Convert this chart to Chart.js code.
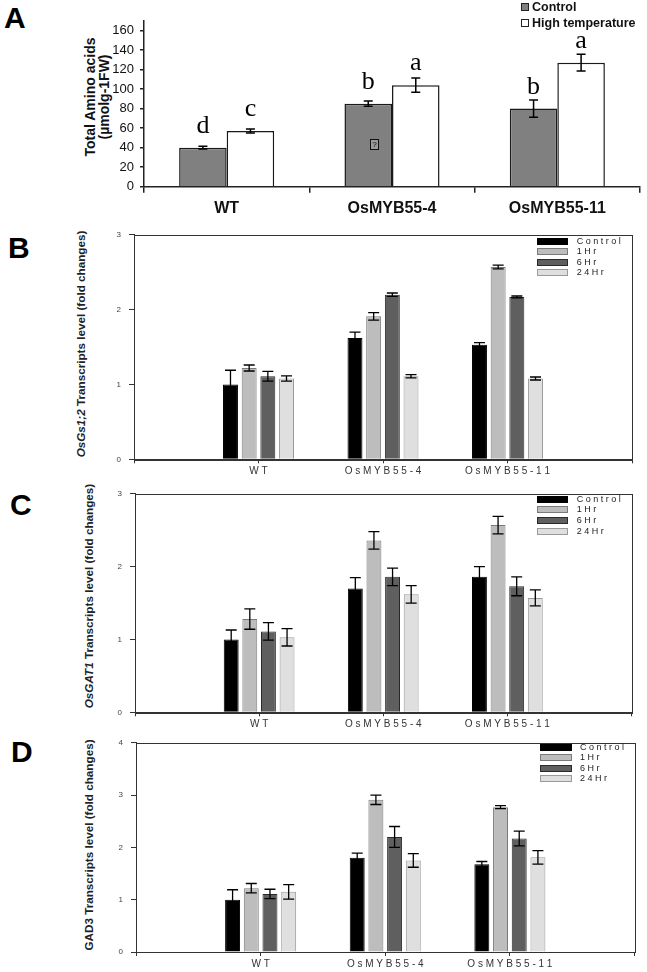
<!DOCTYPE html>
<html>
<head>
<meta charset="utf-8">
<script src="https://cdn.jsdelivr.net/npm/chart.js@4.4.1/dist/chart.umd.min.js"></script>
<style>
  html, body { margin:0; padding:0; background:#fff; }
  body { width:647px; height:972px; position:relative; overflow:hidden; font-family:"Liberation Sans", Arial, sans-serif; }
  .cv { position:absolute; }
  .abs { position:absolute; white-space:nowrap; }
  .plabel { position:absolute; font-weight:bold; font-size:30px; line-height:30px; color:#000; }
  .ytitle { position:absolute; white-space:nowrap; transform:translate(-50%,-50%) rotate(-90deg); font-weight:bold; color:#222; }
  .leg { position:absolute; font-size:9px; line-height:9px; color:#222; white-space:nowrap; }
  .legbox { position:absolute; box-sizing:border-box; }
</style>
</head>
<body>
<div class="plabel" style="left:4px;top:3px;">A</div>
<div class="plabel" style="left:8px;top:233px;">B</div>
<div class="plabel" style="left:10px;top:490px;">C</div>
<div class="plabel" style="left:11px;top:737px;">D</div>

<div class="ytitle" style="left:97px;top:97px;font-size:14px;line-height:14px;text-align:center;color:#111;">Total Amino acids<br>(µmolg-1FW)</div>
<div class="ytitle" style="left:80px;top:344px;font-size:11.7px;"><i>OsGs1;2</i> Transcripts level (fold changes)</div>
<div class="ytitle" style="left:88px;top:596px;font-size:11.7px;"><i>OsGAT1</i> Transcripts level (fold changes)</div>
<div class="ytitle" style="left:88px;top:845px;font-size:11.7px;">GAD3 Transcripts level (fold changes)</div>

<canvas id="cA" class="cv" style="left:100px;top:0px;" width="547" height="222"></canvas>
<canvas id="cB" class="cv" style="left:100px;top:222px;" width="547" height="256"></canvas>
<canvas id="cC" class="cv" style="left:100px;top:481px;" width="547" height="248"></canvas>
<canvas id="cD" class="cv" style="left:100px;top:730px;" width="547" height="242"></canvas>

<div id="legends"></div>

<script>
// ---------------- DATA ----------------
// Panel A: total amino acids
const groupsA = ['WT', 'OsMYB55-4', 'OsMYB55-11'];
const seriesA = ['Control', 'High temperature'];
const controlA = [40, 85, 80];
const controlAErr = [1.5, 2.7, 8.9];
const highTempA = [57, 104, 127];
const highTempAErr = [2, 7.4, 8.6];
const lettersControlA = ['d', 'b', 'b'];
const lettersHighA = ['c', 'a', 'a'];
const yTicksA = [0, 20, 40, 60, 80, 100, 120, 140, 160];

// Panels B-D: transcript levels
const lines = ['W T', 'O s M Y B 5 5 - 4', 'O s M Y B 5 5 - 1 1'];
const timeSeries = ['C o n t r o l', '1 H r', '6 H r', '2 4 H r'];

const gs12Control = [1.00, 1.62, 1.53];
const gs12ControlErr = [0.19, 0.08, 0.03];
const gs12H1 = [1.22, 1.91, 2.57];
const gs12H1Err = [0.04, 0.05, 0.026];
const gs12H6 = [1.11, 2.20, 2.17];
const gs12H6Err = [0.065, 0.022, 0.012];
const gs12H24 = [1.08, 1.11, 1.08];
const gs12H24Err = [0.035, 0.022, 0.02];

const gatControl = [1.00, 1.70, 1.86];
const gatControlErr = [0.13, 0.15, 0.14];
const gatH1 = [1.28, 2.36, 2.57];
const gatH1Err = [0.14, 0.12, 0.12];
const gatH6 = [1.11, 1.86, 1.73];
const gatH6Err = [0.12, 0.12, 0.13];
const gatH24 = [1.03, 1.62, 1.57];
const gatH24Err = [0.12, 0.12, 0.11];

const gadControl = [1.00, 1.80, 1.68];
const gadControlErr = [0.19, 0.09, 0.05];
const gadH1 = [1.22, 2.91, 2.77];
const gadH1Err = [0.09, 0.09, 0.03];
const gadH6 = [1.11, 2.20, 2.17];
const gadH6Err = [0.09, 0.20, 0.14];
const gadH24 = [1.15, 1.75, 1.81];
const gadH24Err = [0.14, 0.13, 0.13];

// ---------------- STYLE ----------------
const SANS = '"Liberation Sans", Arial, sans-serif';
const SERIF = '"Liberation Serif", "Times New Roman", serif';
const timeFill = ['#000000', '#bdbdbd', '#5f5f5f', '#dfdfdf'];
const timeBorder = ['#000000', '#7a7a7a', '#2a2a2a', '#9a9a9a'];

// ---------------- PLUGINS ----------------
const errorBars = {
  id: 'errorBars',
  afterDatasetsDraw(chart, args, opts) {
    const ctx = chart.ctx, y = chart.scales.y;
    chart.data.datasets.forEach((ds, i) => {
      if (!ds.errors) return;
      const meta = chart.getDatasetMeta(i);
      meta.data.forEach((bar, j) => {
        const v = ds.data[j], e = ds.errors[j];
        if (v == null || e == null) return;
        const x = bar.x;
        const yt = y.getPixelForValue(v + e), yb = y.getPixelForValue(v - e);
        const c = opts.cap / 2;
        ctx.save();
        ctx.strokeStyle = '#000';
        ctx.lineWidth = opts.width;
        ctx.beginPath();
        ctx.moveTo(x, yt); ctx.lineTo(x, yb);
        ctx.moveTo(x - c, yt); ctx.lineTo(x + c, yt);
        ctx.moveTo(x - c, yb); ctx.lineTo(x + c, yb);
        ctx.stroke();
        ctx.restore();
      });
    });
  }
};

const letterMarks = {
  id: 'letterMarks',
  afterDatasetsDraw(chart) {
    const ctx = chart.ctx;
    chart.data.datasets.forEach((ds, i) => {
      if (!ds.letters) return;
      const meta = chart.getDatasetMeta(i);
      meta.data.forEach((bar, j) => {
        ctx.save();
        ctx.font = '26px ' + SERIF;
        ctx.fillStyle = '#000';
        ctx.textAlign = 'center';
        ctx.textBaseline = 'alphabetic';
        ctx.fillText(ds.letters[j], bar.x, bar.y - 15);
        ctx.restore();
      });
    });
  }
};

const frame = {
  id: 'frame',
  afterDraw(chart) {
    const a = chart.chartArea, ctx = chart.ctx;
    ctx.save();
    ctx.strokeStyle = '#333';
    ctx.lineWidth = 1;
    ctx.strokeRect(Math.round(a.left) + 0.5, Math.round(a.top) + 0.5,
                   Math.round(a.right - a.left), Math.round(a.bottom - a.top));
    ctx.restore();
  }
};

// ---------------- PANEL A ----------------
new Chart(document.getElementById('cA'), {
  type: 'bar',
  data: {
    labels: groupsA,
    datasets: [
      { label: seriesA[0], data: controlA, errors: controlAErr, letters: lettersControlA,
        backgroundColor: '#808080', borderColor: '#1a1a1a', borderWidth: 1.5 },
      { label: seriesA[1], data: highTempA, errors: highTempAErr, letters: lettersHighA,
        backgroundColor: '#ffffff', borderColor: '#1a1a1a', borderWidth: 1.5 }
    ]
  },
  options: {
    responsive: false, animation: false, devicePixelRatio: 1,
    layout: { padding: { left: 0, right: 7, top: 20.7, bottom: 0 } },
    datasets: { bar: { categoryPercentage: 0.575, barPercentage: 1.0 } },
    plugins: { legend: { display: false }, tooltip: { enabled: false },
               errorBars: { width: 1.5, cap: 9 } },
    scales: {
      x: {
        offset: true,
        grid: { offset: true, drawOnChartArea: false, drawTicks: true, tickLength: 6, color: '#222', lineWidth: 1.5 },
        border: { display: true, color: '#222', width: 1.5 },
        ticks: { font: { family: SANS, size: 16, weight: 'bold' }, color: '#111', padding: 6, maxRotation: 0, autoSkip: false },
        afterFit(s) { s.height = 35.3; }
      },
      y: {
        min: 0, max: 170,
        afterBuildTicks(s) { s.ticks = yTicksA.map(v => ({ value: v })); },
        grid: { drawOnChartArea: false, drawTicks: true, tickLength: 4, color: '#222', lineWidth: 1.5 },
        border: { display: true, color: '#222', width: 1.5 },
        ticks: { font: { family: SANS, size: 13 }, color: '#111', padding: 6 },
        afterFit(s) { s.width = 44; }
      }
    }
  },
  plugins: [errorBars, letterMarks]
});

// ---------------- PANELS B-D ----------------
function pad(a) { return [null].concat(a, [null]); }

function transcriptChart(id, vals, errs, yMax, pads) {
  const datasets = timeSeries.map((name, k) => ({
    label: name, data: pad(vals[k]), errors: pad(errs[k]),
    backgroundColor: timeFill[k], borderColor: timeBorder[k], borderWidth: 1
  }));
  return new Chart(document.getElementById(id), {
    type: 'bar',
    data: { labels: pad(lines).map(v => v == null ? '' : v), datasets },
    options: {
      responsive: false, animation: false, devicePixelRatio: 1,
      layout: { padding: { left: 0, right: pads.right, top: pads.top, bottom: 0 } },
      datasets: { bar: { categoryPercentage: 0.6, barPercentage: 0.8 } },
      plugins: { legend: { display: false }, tooltip: { enabled: false },
                 errorBars: { width: 1.3, cap: 11 } },
      scales: {
        x: {
          offset: false,
          grid: { offset: false, drawOnChartArea: false, drawTicks: true, tickLength: 4, color: '#333' },
          border: { display: true, color: '#333', width: 1 },
          ticks: { font: { family: SANS, size: 10 }, color: '#333', padding: 2, maxRotation: 0, autoSkip: false },
          afterFit(s) { s.height = pads.xh; }
        },
        y: {
          min: 0, max: yMax,
          grid: { drawOnChartArea: false, drawTicks: true, tickLength: 5, color: '#333' },
          border: { display: true, color: '#333', width: 1 },
          ticks: { stepSize: 1, font: { family: SANS, size: 8 }, color: '#444', padding: 8 },
          afterFit(s) { s.width = pads.yw; }
        }
      }
    },
    plugins: [errorBars, frame]
  });
}

transcriptChart('cB',
  [gs12Control, gs12H1, gs12H6, gs12H24],
  [gs12ControlErr, gs12H1Err, gs12H6Err, gs12H24Err], 3,
  { right: 15, top: 8, xh: 18.7, yw: 34 });
transcriptChart('cC',
  [gatControl, gatH1, gatH6, gatH24],
  [gatControlErr, gatH1Err, gatH6Err, gatH24Err], 3,
  { right: 15.5, top: 8.3, xh: 16.7, yw: 35 });
transcriptChart('cD',
  [gadControl, gadH1, gadH6, gadH24],
  [gadControlErr, gadH1Err, gadH6Err, gadH24Err], 4,
  { right: 12.5, top: 8.3, xh: 20, yw: 36 });

// ---------------- LEGENDS (HTML) ----------------
const legRoot = document.getElementById('legends');
function addEl(cls, style, html) {
  const d = document.createElement('div');
  d.className = cls; d.setAttribute('style', style);
  if (html != null) d.innerHTML = html;
  legRoot.appendChild(d);
}
// Panel A legend
const legAFill = ['#808080', '#ffffff'];
[7.3, 23.3].forEach((cy, k) => {
  addEl('legbox', `left:521px;top:${cy - 4}px;width:8px;height:8px;background:${legAFill[k]};border:1px solid #222;`);
  addEl('abs', `left:532px;top:${cy - 7.5}px;font-size:12.5px;line-height:15px;font-weight:bold;color:#111;`, seriesA[k]);
});
// Panels B-D legends
function timeLegend(rows, boxLeft, boxW, textLeft) {
  rows.forEach((cy, k) => {
    addEl('legbox', `left:${boxLeft}px;top:${cy - 3.5}px;width:${boxW}px;height:7px;background:${timeFill[k]};border:1px solid ${timeBorder[k]};`);
    addEl('leg', `left:${textLeft}px;top:${cy - 4.5}px;`, timeSeries[k]);
  });
}
timeLegend([241, 251.7, 262, 272.7], 536.6, 31, 576.7);
timeLegend([499, 509.7, 520.7, 531], 536.6, 31, 576.7);
timeLegend([747.3, 757.7, 768, 778.7], 539.7, 32, 580);

// broken glyph placeholder seen inside the OsMYB55-4 control bar
addEl('abs', 'left:370px;top:139px;width:7px;height:9px;border:1px solid #111;background:#9a9a9a;font-size:8px;line-height:9px;text-align:center;color:#000;', '?');
</script>
</body>
</html>
